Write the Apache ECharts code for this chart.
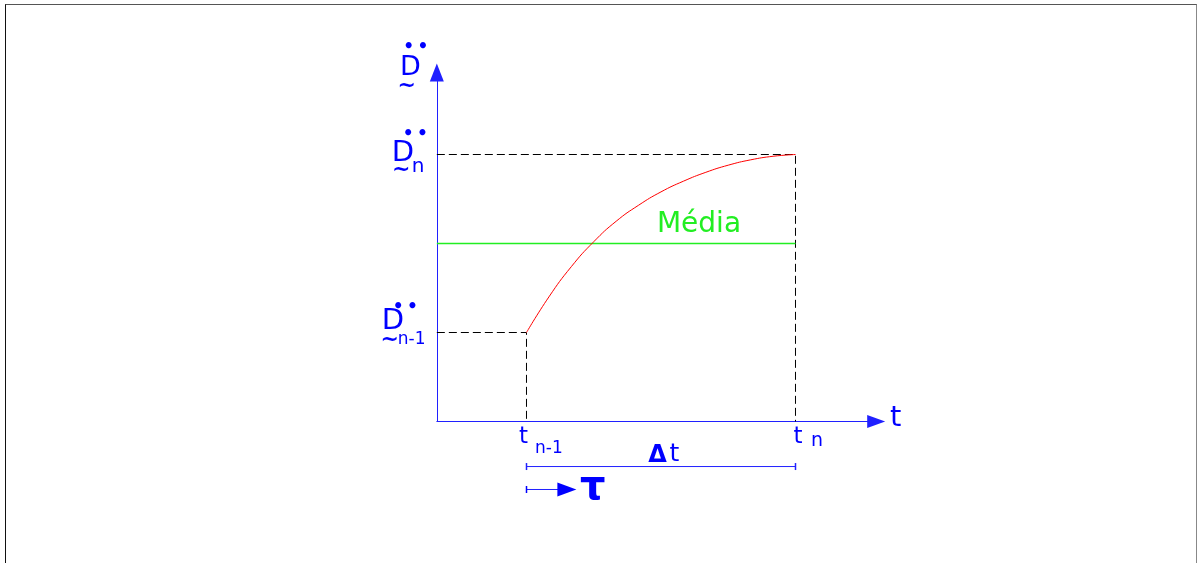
<!DOCTYPE html>
<html>
<head>
<meta charset="utf-8">
<script src="https://cdn.jsdelivr.net/npm/echarts@6/dist/echarts.min.js"></script>
<style>
  html, body { margin: 0; padding: 0; background: #fff; }
  #chart { position: absolute; left: 0; top: 0; width: 1199px; height: 563px; }
  #frame {
    position: absolute; left: 5px; top: 4px; width: 1190px; height: 620px;
    border-left: 1px solid #111; border-top: 1px solid #555; border-right: 1px solid #888;
    pointer-events: none;
  }
</style>
</head>
<body>
<div id="chart"></div>
<div id="frame"></div>
<script>
// ---- values ----
const tMarks = [1, 4];            // t(n-1), t(n)
const tSubs = ['n-1', 'n'];
const dMarks = [1, 3];            // D(n-1), D(n)
const dSubs = ['n-1', 'n'];
const mediaValue = 2;             // "Média" level
const curveT = [1, 1.25, 1.5, 1.75, 2, 2.25, 2.5, 2.75, 3, 3.25, 3.5, 3.75, 4];
const curveD = [1.00, 1.40, 1.74, 2.02, 2.25, 2.43, 2.58, 2.70, 2.80, 2.88, 2.94, 2.98, 3.00];
const tMax = 4.9;
const dMax = 3.92;

// ---- layout of the dimension rows under the time axis ----
const ROW_DT = -0.506;  // Δt dimension line
const ROW_TAU = -0.764; // τ arrow
const TAU_LEN = 0.45;

const BLUE = '#0000ff';
const AXIS_BLUE = '#2020ff';
const GREEN = '#22ee22';
const FONT = 'DejaVu Sans';

// plot area: 89 px per D unit, 269/3 px per t unit
const UNIT_T = 269 / 3;
const UNIT_D = 89;
const GRID_LEFT = 436.833;
const GRID_BOTTOM = 421.5;

const chart = echarts.init(document.getElementById('chart'), null, { renderer: 'canvas' });

// one text piece anchored at a data point
function piece(x, y, text, size, dx, dy, extra) {
  return {
    value: [x, y],
    label: Object.assign({
      show: true, position: 'inside', formatter: text,
      fontFamily: FONT, fontSize: size, color: BLUE,
      offset: [dx, dy]
    }, extra || {})
  };
}
const DOTS = '\u2022\u2009\u2022';

const labels = [
  // axis names
  piece(0, dMax, 'D', 27, -26.5, -4.5),
  piece(0, dMax, DOTS, 17, -21, -25.5, { fontWeight: 'bold' }),
  piece(0, dMax, '~', 22, -30, 14, { fontWeight: 'bold' }),
  piece(tMax, 0, 't', 29, 19.5, -3.5),
  // D(n)
  piece(0, dMarks[1], 'D', 29, -34, -1.5),
  piece(0, dMarks[1], DOTS, 17, -21.5, -19.5, { fontWeight: 'bold' }),
  piece(0, dMarks[1], '~', 22, -35.5, 16, { fontWeight: 'bold' }),
  piece(0, dMarks[1], dSubs[1], 20, -25, 12, { align: 'left' }),
  // D(n-1)
  piece(0, dMarks[0], 'D', 29, -44, -11),
  piece(0, dMarks[0], DOTS, 17, -31.5, -25, { fontWeight: 'bold' }),
  piece(0, dMarks[0], '~', 22, -47, 8, { fontWeight: 'bold' }),
  piece(0, dMarks[0], dSubs[0], 17, -39, 7, { align: 'left' }),
  // t(n-1), t(n)
  piece(tMarks[0], 0, 't', 23, -3, 16),
  piece(tMarks[0], 0, tSubs[0], 17, 8.5, 27.5, { align: 'left' }),
  piece(tMarks[1], 0, 't', 23, 2.5, 16),
  piece(tMarks[1], 0, tSubs[1], 19, 15.5, 20, { align: 'left' }),
  // Δt
  piece((tMarks[0] + tMarks[1]) / 2, ROW_DT, 'Δ', 24, -3.5, -10.5, { fontWeight: 'bold' }),
  piece((tMarks[0] + tMarks[1]) / 2, ROW_DT, 't', 25, 13.5, -12),
  // τ
  piece(tMarks[0] + TAU_LEN, ROW_TAU, 'τ', 40, 26, -1, { fontWeight: 'bold' }),
  // Média
  piece(tMarks[1], mediaValue, 'Média', 28, -96.5, -18.5, { color: GREEN })
];

function guide(k) {
  return {
    type: 'line', silent: true, showSymbol: false, clip: false,
    data: [[0, dMarks[k]], [tMarks[k], dMarks[k]], [tMarks[k], 0]],
    color: '#000',
    lineStyle: { color: '#000', width: 1, type: [8, 4] },
    z: 1
  };
}

const option = {
  animation: false,
  backgroundColor: '#fff',
  grid: {
    left: GRID_LEFT, top: GRID_BOTTOM - UNIT_D * dMax,
    width: UNIT_T * tMax, height: UNIT_D * dMax
  },
  xAxis: {
    type: 'value', min: 0, max: tMax,
    axisLine: { onZero: true, symbol: ['none', 'triangle'], symbolSize: [13, 18],
      lineStyle: { color: AXIS_BLUE, width: 1 } },
    axisTick: { show: false }, axisLabel: { show: false }, splitLine: { show: false }
  },
  yAxis: {
    type: 'value', min: 0, max: dMax,
    axisLine: { onZero: true, symbol: ['none', 'triangle'], symbolSize: [14, 18],
      lineStyle: { color: AXIS_BLUE, width: 1 } },
    axisTick: { show: false }, axisLabel: { show: false }, splitLine: { show: false }
  },
  series: [
    guide(0),
    guide(1),
    {
      name: 'Média', type: 'line', silent: true, showSymbol: false,
      data: [[0, mediaValue], [tMarks[1], mediaValue]],
      color: GREEN,
      itemStyle: { color: GREEN },
      lineStyle: { color: GREEN, width: 1.4, opacity: 1 }, z: 2
    },
    {
      name: 'D', type: 'line', silent: true, showSymbol: false,
      data: curveT.map((t, i) => [t, curveD[i]]),
      smooth: 0.5,
      color: '#ff0000',
      lineStyle: { color: '#ff0000', width: 1 }, z: 3
    },
    {
      name: 'Δt', type: 'line', silent: true, clip: false,
      symbol: 'rect', symbolSize: [1.5, 7],
      color: AXIS_BLUE,
      itemStyle: { color: AXIS_BLUE },
      data: [[tMarks[0], ROW_DT], [tMarks[1], ROW_DT]],
      lineStyle: { color: AXIS_BLUE, width: 1 }
    },
    {
      name: 'τ', type: 'line', silent: true, clip: false,
      color: BLUE,
      itemStyle: { color: BLUE },
      data: [
        { value: [tMarks[0], ROW_TAU], symbol: 'rect', symbolSize: [1.5, 7] },
        { value: [tMarks[0] + TAU_LEN, ROW_TAU], symbol: 'triangle', symbolSize: [14, 19], symbolRotate: -90 }
      ],
      lineStyle: { color: AXIS_BLUE, width: 1 }
    },
    {
      name: 'labels', type: 'scatter', silent: true, clip: false,
      symbolSize: 1, itemStyle: { color: 'rgba(0,0,0,0)', opacity: 1 },
      data: labels, z: 10
    }
  ]
};
chart.setOption(option);
</script>
</body>
</html>
